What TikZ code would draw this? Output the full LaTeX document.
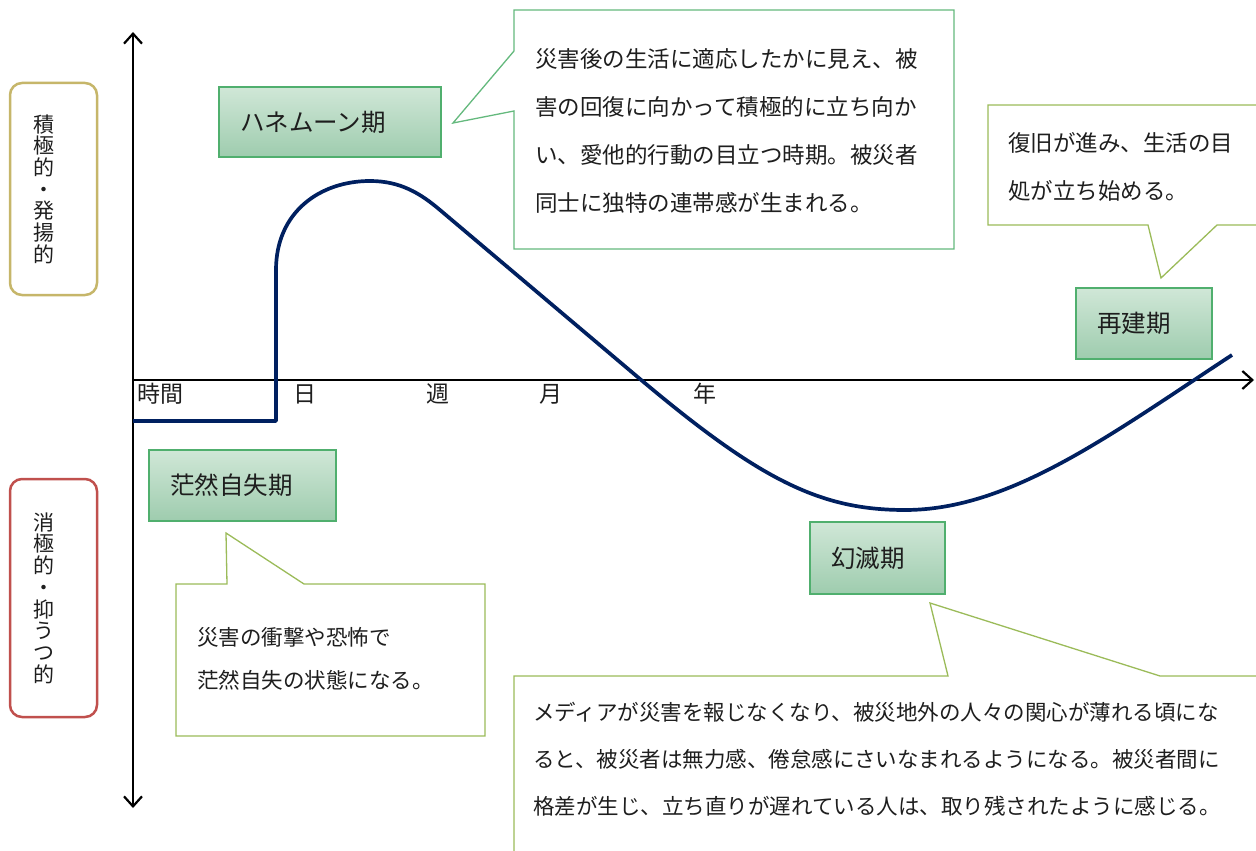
\documentclass[tikz,border=0pt]{standalone}
\usepackage{fontspec}
\newfontfamily\jp{Noto Sans CJK JP}
\usetikzlibrary{arrows.meta}
\definecolor{navy}{RGB}{0,32,96}
\definecolor{boxborder}{RGB}{80,175,110}
\definecolor{boxtop}{RGB}{208,231,215}
\definecolor{boxbot}{RGB}{158,204,174}
\definecolor{calloutA}{RGB}{100,185,125}
\definecolor{calloutB}{RGB}{155,187,89}
\definecolor{goldline}{RGB}{198,182,106}
\definecolor{redline}{RGB}{192,80,77}
\definecolor{ink}{RGB}{30,30,30}
\tikzset{
  phase/.style={draw=boxborder, line width=2pt, top color=boxtop, bottom color=boxbot,
    align=left, inner xsep=21pt, inner ysep=0pt, text=ink,
    font=\jp\fontsize{24.5}{28}\selectfont},
  sidebox/.style={rounded corners=12pt, line width=2.5pt, fill=white},
  sidetext/.style={align=center, inner sep=0pt, text=ink, font=\jp\fontsize{21}{21.7}\selectfont},
  axislbl/.style={inner sep=0pt, text=ink, font=\jp\fontsize{23}{26}\selectfont},
  ctext/.style={align=left, anchor=north west, inner sep=0pt, text=ink},
  balloonA/.style={draw=calloutA, line width=1.3pt, fill=white},
  balloonB/.style={draw=calloutB, line width=1.3pt, fill=white},
  axisline/.style={line width=2.2pt, black},
  curveline/.style={line width=3.7pt, navy, line join=round},
}
\begin{document}
\begin{tikzpicture}[x=1pt,y=-1pt]
\useasboundingbox (0,0) rectangle (1256,851);

% side boxes
\node[sidebox, draw=goldline, minimum width=87pt, minimum height=212pt] (pos) at (53.5,189) {};
\node[sidetext] (postxt) at (44,189) {積\\極\\的\\・\\発\\揚\\的};
\node[sidebox, draw=redline, minimum width=87pt, minimum height=238pt] (neg) at (53.5,598) {};
\node[sidetext] (negtxt) at (44,598) {消\\極\\的\\・\\抑\\う\\つ\\的};

% callout balloons
\draw[balloonA] (514,10) -- (954,10) -- (954,249) -- (514,249) -- (514,111) -- (453,123) -- (514,51) -- cycle;
\node[ctext, font=\jp\fontsize{22.5}{48}\selectfont] (t1) at (535,48)
  {災害後の生活に適応したかに見え、被\\害の回復に向かって積極的に立ち向か\\い、愛他的行動の目立つ時期。被災者\\同士に独特の連帯感が生まれる。};

\draw[balloonB] (1266,105) -- (988,105) -- (988,225) -- (1148,225) -- (1161,278) -- (1217,225) -- (1266,225);
\node[ctext, font=\jp\fontsize{22.5}{48}\selectfont] (t2) at (1008,132)
  {復旧が進み、生活の目\\処が立ち始める。};

\draw[balloonB] (176,584) -- (227,584) -- (226,533) -- (304,584) -- (485,584) -- (485,736) -- (176,736) -- cycle;
\node[ctext, font=\jp\fontsize{21.5}{43}\selectfont] (t3) at (197,627)
  {災害の衝撃や恐怖で\\茫然自失の状態になる。};

\draw[balloonB] (514,870) -- (514,676) -- (948,676) -- (930,603) -- (1160,676) -- (1266,676);
\node[ctext, font=\jp\fontsize{21.5}{47}\selectfont] (t4) at (533,702)
  {メディアが災害を報じなくなり、被災地外の人々の関心が薄れる頃にな\\ると、被災者は無力感、倦怠感にさいなまれるようになる。被災者間に\\格差が生じ、立ち直りが遅れている人は、取り残されたように感じる。};

% axes
\coordinate (vtop) at (133,32);
\coordinate (vbot) at (133,808);
\coordinate (hleft) at (133,380);
\coordinate (hright) at (1254,380);
\draw[axisline, {Straight Barb[length=10pt,width=18pt]}-{Straight Barb[length=10pt,width=18pt]}] (vtop) -- (vbot);
\draw[axisline, -{Straight Barb[length=10pt,width=18pt]}] (hleft) -- (hright);

% axis labels
\node[axislbl] (l0) at (160,394) {時間};
\node[axislbl] (l1) at (305,394) {日};
\node[axislbl] (l2) at (438,394) {週};
\node[axislbl] (l3) at (551,394) {月};
\node[axislbl] (l4) at (705,394) {年};

% curve
\draw[curveline] (133,421) -- (276,421) -- (276,270)
  .. controls (276,212) and (320,181) .. (370,181)
  .. controls (400,181) and (420,193) .. (440,210)
  -- (640,379)
  .. controls (760,480) and (820,510) .. (905,510)
  .. controls (1010,510) and (1110,435) .. (1232,355);

% phase boxes
\node[phase, minimum height=70pt, text width=180pt] (honey) at (330,122) {ハネムーン期};
\node[phase, minimum height=71pt, text width=94pt] (rebuild) at (1144,323.5) {再建期};
\node[phase, minimum height=71pt, text width=145pt] (shock) at (242.5,485.5) {茫然自失期};
\node[phase, minimum height=72pt, text width=93pt] (disill) at (877.5,558) {幻滅期};
\end{tikzpicture}
\end{document}
